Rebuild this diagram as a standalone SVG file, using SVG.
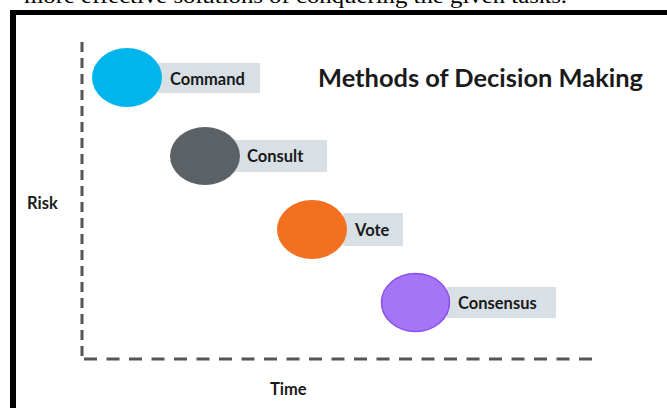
<svg xmlns="http://www.w3.org/2000/svg" width="667" height="408" viewBox="0 0 667 408">
  <style>
    .lbl { font-family: Lato, "Liberation Sans", sans-serif; font-weight: 700; font-size: 16.5px; fill: #1a1a1a; }
    .box { fill: #d8e0e5; }
    .axis { stroke: #555555; stroke-width: 3; fill: none; }
  </style>
  <rect width="667" height="408" fill="#ffffff"/>
  <text x="24" y="3" font-family="'Liberation Serif', serif" font-size="20" fill="#000" textLength="543" lengthAdjust="spacingAndGlyphs">more effective solutions of conquering the given tasks.</text>
  <rect x="10" y="10" width="657" height="5" fill="#000"/>
  <rect x="10" y="10" width="6" height="398" fill="#000"/>

  <g id="connectors">
    <line class="axis" x1="82" y1="42" x2="82" y2="360" stroke-dasharray="10 6"/>
    <line class="axis" x1="84" y1="359" x2="593" y2="359" stroke-dasharray="13 9.5"/>
  </g>

  <g id="title">
    <text x="318" y="87" font-family="Lato, 'Liberation Sans', sans-serif" font-weight="700" font-size="25" fill="#1a1a1a" textLength="325" lengthAdjust="spacingAndGlyphs">Methods of Decision Making</text>
  </g>
  <g id="risk"><text class="lbl" x="27" y="209">Risk</text></g>
  <g id="time"><text class="lbl" x="270" y="395">Time</text></g>

  <g id="command">
    <rect class="box" x="158" y="63" width="102" height="30"/>
    <ellipse cx="127" cy="77.5" rx="35" ry="29.5" fill="#00b5ec"/>
    <text class="lbl" x="170" y="85">Command</text>
  </g>
  <g id="consult">
    <rect class="box" x="235" y="140" width="92" height="32"/>
    <ellipse cx="205" cy="156" rx="35" ry="29" fill="#5b6165"/>
    <text class="lbl" x="247" y="162">Consult</text>
  </g>
  <g id="vote">
    <rect class="box" x="343" y="213" width="60" height="33"/>
    <ellipse cx="312" cy="229.5" rx="35" ry="29.5" fill="#f37021"/>
    <text class="lbl" x="355" y="236">Vote</text>
  </g>
  <g id="consensus">
    <rect class="box" x="447" y="287" width="109" height="31"/>
    <ellipse cx="415.5" cy="302.5" rx="34" ry="29" fill="#a675f7" stroke="#8a4fe8" stroke-width="1.5"/>
    <text class="lbl" x="458" y="309">Consensus</text>
  </g>
</svg>
